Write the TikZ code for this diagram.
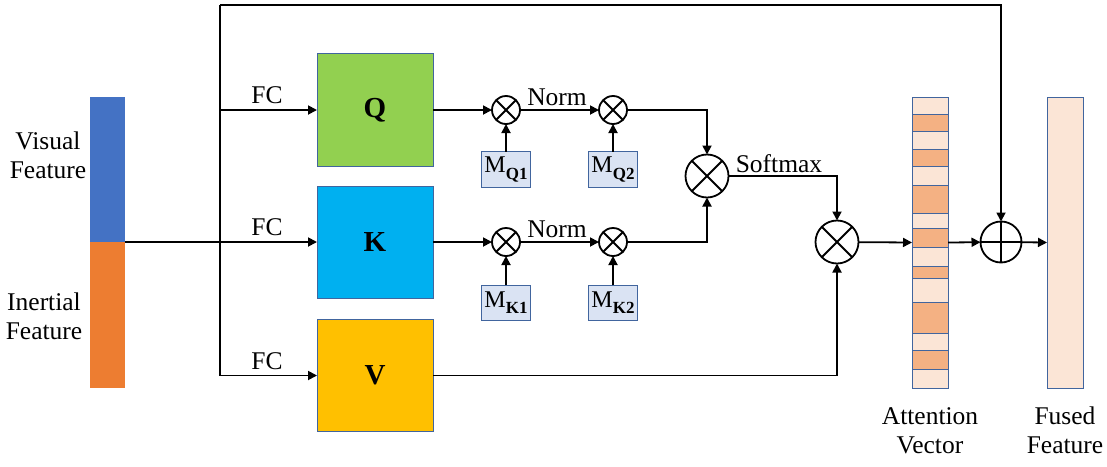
\documentclass[tikz,border=0pt]{standalone}
\usepackage{fontspec}
\setmainfont{Liberation Serif}
\usetikzlibrary{arrows.meta}
\definecolor{visblue}{HTML}{4472C4}
\definecolor{ineorange}{HTML}{ED7D31}
\definecolor{qgreen}{HTML}{92D050}
\definecolor{kcyan}{HTML}{00B0F0}
\definecolor{vgold}{HTML}{FFC000}
\definecolor{mfill}{HTML}{DAE3F3}
\definecolor{edgeblue}{HTML}{41659E}
\definecolor{lite}{HTML}{FBE5D6}
\definecolor{dark}{HTML}{F4B183}
\newcommand{\msub}[1]{M\raisebox{-0.28em}{\fontsize{17}{17}\selectfont\bfseries #1}}
\tikzset{
  txt/.style={font=\fontsize{25.5}{29}\selectfont, inner sep=0pt},
  bar/.style={rectangle, inner sep=0pt, outer sep=0pt, minimum width=35pt},
  qkv/.style={rectangle, draw=edgeblue, line width=0.8pt, inner sep=0pt, outer sep=0pt,
    minimum width=116pt, minimum height=113pt, font=\fontsize{29}{32}\selectfont\bfseries},
  mbox/.style={rectangle, draw=edgeblue, fill=mfill, line width=0.8pt, inner sep=0pt,
    outer sep=0pt, minimum width=49pt, minimum height=36pt, font=\fontsize{24}{26}\selectfont},
  stripe/.style={draw=edgeblue, line width=0.8pt},
  mul/.style={circle, draw, line width=1.8pt, inner sep=0pt, outer sep=0pt,
    path picture={\draw[line width=1.8pt] (path picture bounding box.north east) -- (path picture bounding box.south west)
      (path picture bounding box.north west) -- (path picture bounding box.south east);}},
  add/.style={circle, draw, line width=1.8pt, inner sep=0pt, outer sep=0pt, minimum size=41pt,
    path picture={\draw[line width=1.8pt] (path picture bounding box.north) -- (path picture bounding box.south)
      (path picture bounding box.west) -- (path picture bounding box.east);}},
  arr/.style={-{Triangle[length=9pt,width=9pt]}, line width=1.8pt},
  ln/.style={line width=1.8pt}
}
\begin{document}
\begin{tikzpicture}[x=1pt,y=-1pt]
\useasboundingbox (0,0) rectangle (1107,466);

\node[bar, fill=visblue, minimum height=145pt] (vis) at (107.5,169.5) {};
\node[bar, fill=ineorange, minimum height=146pt] (ine) at (107.5,315) {};
\node[txt, align=center, anchor=base] (vislab) at (48,178) {Visual\\Feature};
\node[txt, align=center, anchor=base] (inelab) at (44,339) {Inertial\\Feature};

\node[qkv, fill=qgreen] (q) at (375,110) {Q};
\node[qkv, fill=kcyan, minimum height=112pt] (k) at (375,242) {K};
\node[qkv, fill=vgold, minimum height=112pt] (v) at (375,375.5) {V};

\coordinate (sp) at (220,242);
\coordinate (topl) at (220,5);
\coordinate (topr) at (1001,5);

\node[mul, minimum size=28pt] (mq1) at (506,110) {};
\node[mul, minimum size=28pt] (mq2) at (613,110) {};
\node[mul, minimum size=28pt] (mk1) at (506,242) {};
\node[mul, minimum size=28pt] (mk2) at (613,242) {};
\node[mul, minimum size=43pt] (sm) at (707,176) {};
\node[mul, minimum size=43pt] (mv) at (837,242) {};
\node[add] (plus) at (1001,242) {};

\node[mbox] (mq1b) at (506,169.5) {\msub{Q1}};
\node[mbox] (mq2b) at (613,169.5) {\msub{Q2}};
\node[mbox, minimum height=35pt] (mk1b) at (506,302.5) {\msub{K1}};
\node[mbox, minimum height=35pt] (mk2b) at (613,302.5) {\msub{K2}};

\foreach \ya/\yb/\c in {97/114/lite,114/131/dark,131/149/lite,149/166/dark,166/185/lite,
  185/213/dark,213/228/lite,228/247/dark,247/266/lite,266/278/dark,278/302/lite,
  302/333/dark,333/350/lite,350/369/dark,369/388/lite}
  \draw[stripe, fill=\c] (912,\ya) rectangle (948,\yb);
\node[bar, draw=edgeblue, line width=0.8pt, minimum width=36pt, minimum height=291pt] (att) at (930,242.5) {};
\node[bar, draw=edgeblue, fill=lite, line width=0.8pt, minimum width=36pt, minimum height=291pt] (fus) at (1065,242.5) {};

\node[txt, anchor=base] (fc1) at (267,103) {FC};
\node[txt, anchor=base] (fc2) at (267,235) {FC};
\node[txt, anchor=base] (fc3) at (267,369) {FC};
\node[txt, anchor=base] (norm1) at (557,105) {Norm};
\node[txt, anchor=base] (norm2) at (557,237) {Norm};
\node[txt, anchor=base] (soft) at (779,172) {Softmax};
\node[txt, align=center, anchor=base] (attlab) at (930,453) {Attention\\Vector};
\node[txt, align=center, anchor=base] (fuslab) at (1065,453) {Fused\\Feature};

\draw[ln] (vis.south east) -- (sp);
\draw[arr] (topl) -- (topl |- v.west) -- (v.west);
\draw[arr] (topl |- q.west) -- (q.west);
\draw[arr] (sp) -- (k.west);
\draw[arr] (topl) -- (topr) -- (plus);

\draw[arr] (q.east) -- (mq1);
\draw[arr] (mq1) -- (mq2);
\draw[arr] (mq2) -| (sm);
\draw[arr] (k.east) -- (mk1);
\draw[arr] (mk1) -- (mk2);
\draw[arr] (mk2) -| (sm);
\draw[arr] (mq1b) -- (mq1);
\draw[arr] (mq2b) -- (mq2);
\draw[arr] (mk1b) -- (mk1);
\draw[arr] (mk2b) -- (mk2);

\draw[arr] (sm) -| (mv);
\draw[arr] (v.east) -| (mv);
\draw[arr] (mv) -- (att.west);
\draw[arr] (att.east) -- (plus);
\draw[arr] (plus) -- (fus.west);
\end{tikzpicture}
\end{document}
